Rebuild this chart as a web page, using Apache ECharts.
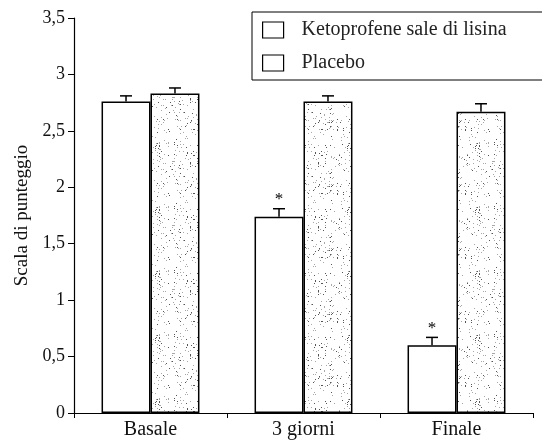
<!DOCTYPE html>
<html>
<head>
<meta charset="utf-8">
<script src="https://cdn.jsdelivr.net/npm/echarts@6/dist/echarts.min.js"></script>
<style>
  html, body { margin: 0; padding: 0; background: #fff; }
  #chart { width: 542px; height: 441px; }
</style>
</head>
<body>
<div id="chart"></div>
<script>
// dati
const categories = ['Basale', '3 giorni', 'Finale']
const ketoValues = [2.76, 1.74, 0.60]
const ketoErrors = [0.05, 0.07, 0.07]
const placeboValues = [2.83, 2.76, 2.67]
const placeboErrors = [0.05, 0.05, 0.07]
const ketoSignificant = [false, true, true]
const yTicks = [0, 0.5, 1, 1.5, 2, 2.5, 3, 3.5]

const serif = 'Liberation Serif'

// texture puntinata per il placebo (hash fisso, solo decorazione)
function stipple() {
  const size = 64
  const c = document.createElement('canvas')
  c.width = size; c.height = size
  const ctx = c.getContext('2d')
  ctx.fillStyle = '#fff'
  ctx.fillRect(0, 0, size, size)
  const h = n => { const v = Math.sin(n * 12.9898) * 43758.5453; return v - Math.floor(v) }
  for (let i = 0; i < 230; i++) {
    const x = Math.floor(h(i + 1) * size)
    const y = Math.floor(h(i + 1000.5) * size)
    ctx.fillStyle = h(i + 77.3) < 0.35 ? '#555' : '#a8a8a8'
    ctx.fillRect(x, y, 1, 1)
  }
  return c
}

const BAR = 0.32 // larghezza barra come frazione della categoria

function errorSeries(values, errors, side, stars) {
  return {
    type: 'custom',
    name: side < 0 ? 'err-keto' : 'err-placebo',
    z: 5,
    silent: true,
    data: values.map((v, i) => [i, v, errors[i], stars ? (stars[i] ? 1 : 0) : 0]),
    renderItem: (params, api) => {
      const i = api.value(0)
      const band = api.size([1, 0])[0]
      const base = api.coord([i, api.value(1)])
      const x = base[0] + side * band * BAR / 2
      const top = api.coord([i, api.value(1) + api.value(2)])[1]
      const children = [
        { type: 'line', shape: { x1: x, y1: base[1], x2: x, y2: top }, style: { stroke: '#000', lineWidth: 1.5 } },
        { type: 'line', shape: { x1: x - 6, y1: top, x2: x + 6, y2: top }, style: { stroke: '#000', lineWidth: 1.5 } }
      ]
      if (api.value(3)) {
        children.push({ type: 'text', style: { text: '*', x: x, y: top - 9, align: 'center', verticalAlign: 'middle', font: '17px ' + serif, fill: '#000' } })
      }
      return { type: 'group', children }
    }
  }
}

const chart = echarts.init(document.getElementById('chart'))
chart.setOption({
  animation: false,
  grid: { left: 74, right: 9, top: 18, bottom: 28 },
  legend: {
    left: 252, top: 12,
    orient: 'vertical',
    icon: 'rect',
    data: [
      { name: 'Ketoprofene sale di lisina', itemStyle: { color: '#fff', borderColor: '#000', borderWidth: 1.2 } },
      { name: 'Placebo', itemStyle: { color: '#fff', borderColor: '#000', borderWidth: 1.2 } }
    ],
    itemWidth: 21, itemHeight: 16, itemGap: 13,
    padding: [8, 40, 7, 10],
    borderColor: '#000', borderWidth: 1, backgroundColor: '#fff',
    textStyle: { fontFamily: serif, fontSize: 20, color: '#222', padding: [0, 0, 0, 13] }
  },
  xAxis: {
    type: 'category',
    data: categories,
    axisLine: { lineStyle: { color: '#000', width: 1.2 } },
    axisTick: { show: true, length: 5, lineStyle: { color: '#000' } },
    axisLabel: { fontFamily: serif, fontSize: 20, color: '#111', margin: 7 }
  },
  yAxis: {
    type: 'value',
    min: 0, max: 3.5, interval: 0.5,
    name: 'Scala di punteggio',
    nameLocation: 'middle',
    nameGap: 42,
    nameTextStyle: { fontFamily: serif, fontSize: 19, color: '#111' },
    splitLine: { show: false },
    axisLine: { show: true, lineStyle: { color: '#000', width: 1.2 } },
    axisTick: { show: true, length: 6, lineStyle: { color: '#000' } },
    axisLabel: {
      fontFamily: serif, fontSize: 18, color: '#111', margin: 9,
      formatter: v => yTicks.includes(v) ? String(v).replace('.', ',') : ''
    }
  },
  series: [
    {
      name: 'Ketoprofene sale di lisina', type: 'bar', data: ketoValues,
      barWidth: (BAR * 100) + '%', barGap: '0%',
      itemStyle: { color: '#fff', borderColor: '#000', borderWidth: 1.5 }
    },
    {
      name: 'Placebo', type: 'bar', data: placeboValues,
      barWidth: (BAR * 100) + '%', barGap: '0%',
      itemStyle: { color: { image: stipple(), repeat: 'repeat' }, borderColor: '#000', borderWidth: 1.5 }
    },
    errorSeries(ketoValues, ketoErrors, -1, ketoSignificant),
    errorSeries(placeboValues, placeboErrors, 1, null)
  ]
})
</script>
</body>
</html>
